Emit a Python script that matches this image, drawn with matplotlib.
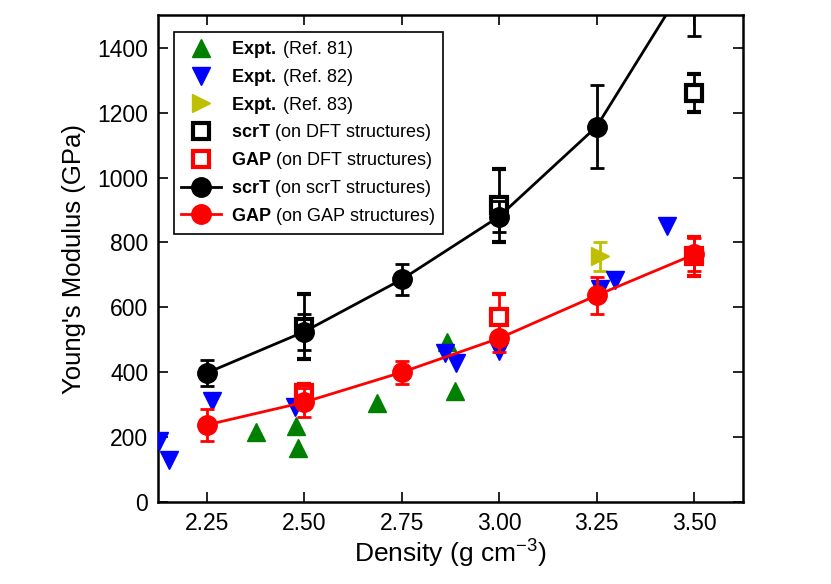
from matplotlib import pyplot as plt
import numpy as np

plt.rcParams['font.family'] = ['Liberation Sans', 'DejaVu Sans']
plt.rcParams['mathtext.fontset'] = 'custom'
plt.rcParams['mathtext.rm'] = 'Liberation Sans'
plt.rcParams['mathtext.it'] = 'Liberation Sans:italic'
plt.rcParams['mathtext.bf'] = 'Liberation Sans:bold'

# experimental data
ref81_x = [2.376, 2.48, 2.485, 2.686, 2.865, 2.888]
ref81_y = [215, 236, 166, 305, 495, 342]
ref82_x = [2.127, 2.153, 2.263, 2.476, 2.86, 2.89, 3.00, 3.258, 3.298, 3.43]
ref82_y = [190, 129, 312, 293, 460, 430, 465, 658, 683, 852]
ref83_x = [3.258]
ref83_y = [757]
ref83_err = [45]

# calculations on DFT structures
dft_x = [2.50, 3.00, 3.50]
scrt_dft = [540, 915, 1260]
scrt_dft_err = [100, 112, 58]
gap_dft = [335, 572, 758]
gap_dft_err = [30, 68, 60]

# calculations on own structures
dens = [2.25, 2.50, 2.75, 3.00, 3.25, 3.50]
scrt = [398, 525, 686, 880, 1157, 1640]
scrt_err = [40, 55, 48, 47, 129, 205]
gap = [238, 308, 400, 505, 637, 763]
gap_err = [50, 45, 36, 43, 58, 50]

labels = [r'$\bf{Expt.}\;$(Ref. 81)', r'$\bf{Expt.}\;$(Ref. 82)',
          r'$\bf{Expt.}\;$(Ref. 83)',
          r'$\bf{scrT}$ (on DFT structures)',
          r'$\bf{GAP}$ (on DFT structures)',
          r'$\bf{scrT}$ (on scrT structures)',
          r'$\bf{GAP}$ (on GAP structures)']

fig = plt.figure(figsize=(8.31, 5.84), dpi=100)
ax = fig.add_axes([0.190, 0.140, 0.704, 0.834])

ax.errorbar(ref83_x, ref83_y, yerr=ref83_err, fmt='>', color='y', ms=13,
            mec='y', elinewidth=2, capsize=5, capthick=2, zorder=3)
ax.plot(ref81_x, ref81_y, '^', color='g', mec='g', ms=13, zorder=3,
        label=labels[0])
ax.plot(ref82_x, ref82_y, 'v', color='b', mec='b', ms=13, zorder=3,
        label=labels[1])
ax.plot([], [], '>', color='y', mec='y', ms=13, label=labels[2])

ax.errorbar(dft_x, scrt_dft, yerr=scrt_dft_err, fmt='s', mfc='w', mec='k',
            mew=3, ms=12, ecolor='k', elinewidth=2, capsize=5, capthick=2,
            zorder=4, label=labels[3])
ax.errorbar(dft_x, gap_dft, yerr=gap_dft_err, fmt='s', mfc='w', mec='r',
            mew=3, ms=12, ecolor='r', elinewidth=2, capsize=5, capthick=2,
            zorder=4, label=labels[4])

ax.errorbar(dens, scrt, yerr=scrt_err, fmt='o-', color='k', ms=14, lw=2,
            elinewidth=2, capsize=5, capthick=2, zorder=5, label=labels[5])
ax.errorbar(dens, gap, yerr=gap_err, fmt='o-', color='r', mec='r', ms=14, lw=2,
            elinewidth=2, capsize=5, capthick=2, zorder=5, label=labels[6])

ax.set_xlim([2.125, 3.625])
ax.set_ylim([0, 1500])
ax.set_xticks([2.25, 2.50, 2.75, 3.00, 3.25, 3.50])
ax.set_xticklabels(['2.25', '2.50', '2.75', '3.00', '3.25', '3.50'])
ax.set_yticks(np.arange(0, 1401, 200))
ax.tick_params(direction='in', top=True, right=True, length=7, width=1.2,
               labelsize=16.5, pad=7)
for sp in ax.spines.values():
    sp.set_linewidth(1.8)
ax.set_xlabel(r'Density (g cm$^{-3}$)', fontsize=19, labelpad=2)
ax.set_ylabel("Young's Modulus (GPa)", fontsize=18.5, labelpad=8)

# legend: plain marker/line handles, no errorbars
h, l = ax.get_legend_handles_labels()
hh = []
for s in labels:
    hi = h[l.index(s)]
    if hasattr(hi, 'lines'):
        hi = hi.lines[0]
    hh.append(hi)
leg = ax.legend(hh, labels, loc='upper left', fontsize=13,
                fancybox=False, edgecolor='k', framealpha=1, numpoints=1,
                handlelength=2.2, handletextpad=0.6, borderpad=0.4,
                labelspacing=0.37, borderaxespad=0,
                bbox_to_anchor=(0.027, 0.965))
leg.get_frame().set_linewidth(1.2)

plt.savefig('out.png', dpi=100)
